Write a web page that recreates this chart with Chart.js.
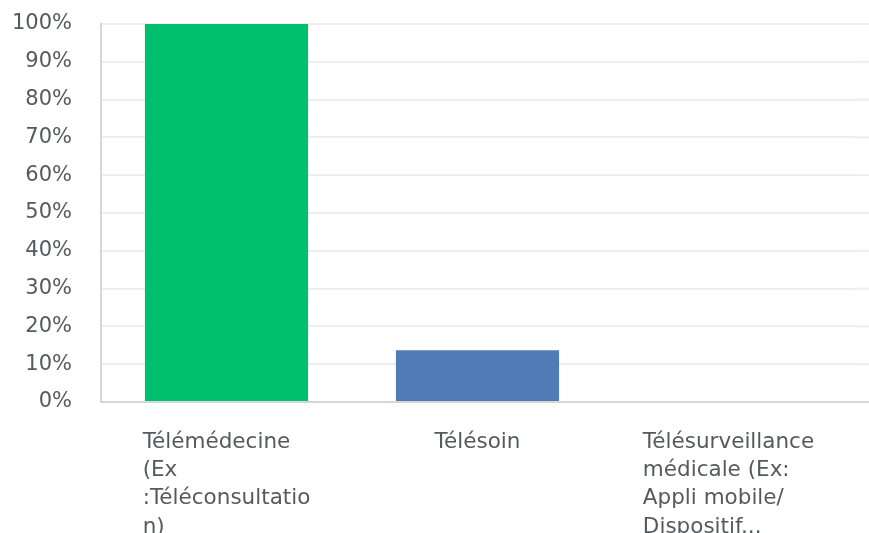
<!DOCTYPE html>
<html>
<head>
<meta charset="utf-8">
<script src="https://cdn.jsdelivr.net/npm/chart.js@4.4.1/dist/chart.umd.min.js"></script>
<style>
  html, body { margin: 0; padding: 0; background: #ffffff; }
  #wrap { width: 869px; height: 533px; }
</style>
</head>
<body>
<div id="wrap"><canvas id="c" width="869" height="533"></canvas></div>
<script>
const categories = [
  ["Télémédecine", "(Ex", ":Téléconsultatio", "n)"],
  ["Télésoin"],
  ["Télésurveillance", "médicale (Ex:", "Appli mobile/", "Dispositif..."]
];
const values = [100, 13.7, 0];
const barColors = ["#00BF6F", "#507CB6", "#507CB6"];
const yTicks = [0, 10, 20, 30, 40, 50, 60, 70, 80, 90, 100];

const FONT = "'DejaVu Sans', sans-serif";
const TEXT = "#555a5e";

const extras = {
  id: "extras",
  afterDraw(chart) {
    const ctx = chart.ctx;
    const area = chart.chartArea;
    const ys = chart.scales.y;
    const xs = chart.scales.x;
    ctx.save();
    // extend horizontal grid lines / axis to the right edge
    yTicks.forEach(v => {
      const y = ys.getPixelForValue(v);
      ctx.strokeStyle = v === 0 ? "#d6d6d6" : "#eeeeee";
      ctx.lineWidth = 2;
      ctx.beginPath();
      ctx.moveTo(area.right, y);
      ctx.lineTo(chart.width, y);
      ctx.stroke();
    });
    // category labels: block centred under each bar, lines left-aligned
    ctx.font = "21.5px " + FONT;
    ctx.fillStyle = TEXT;
    ctx.textAlign = "left";
    ctx.textBaseline = "middle";
    categories.forEach((lines, i) => {
      const cx = xs.getPixelForValue(i);
      const w = Math.max(...lines.map(l => ctx.measureText(l).width));
      const x0 = cx - w / 2;
      lines.forEach((l, j) => {
        ctx.fillText(l, x0, area.bottom + 40 + j * 28.4);
      });
    });
    ctx.restore();
  }
};

new Chart(document.getElementById("c"), {
  type: "bar",
  data: {
    labels: categories.map(c => c.join(" ")),
    datasets: [{
      data: values,
      backgroundColor: barColors,
      borderWidth: 0,
      barPercentage: 0.65,
      categoryPercentage: 1.0
    }]
  },
  options: {
    responsive: false,
    animation: false,
    devicePixelRatio: 1,
    layout: { padding: { top: 24, right: 15, bottom: 131, left: 0 } },
    plugins: { legend: { display: false }, tooltip: { enabled: false } },
    scales: {
      x: {
        offset: true,
        grid: { display: false, drawTicks: false },
        border: { display: true, color: "#d6d6d6", width: 2 },
        ticks: { display: false }
      },
      y: {
        min: 0,
        max: 100,
        afterFit(s) { s.width = 101; s.paddingTop = 0; s.paddingBottom = 0; },
        afterBuildTicks(s) { s.ticks = yTicks.map(v => ({ value: v })); },
        grid: { color: "#eeeeee", lineWidth: 2, drawTicks: false },
        border: { display: true, color: "#d6d6d6", width: 2 },
        ticks: {
          padding: 29,
          color: TEXT,
          font: { family: FONT, size: 21 },
          callback: v => v + "%"
        }
      }
    }
  },
  plugins: [extras]
});
</script>
</body>
</html>
